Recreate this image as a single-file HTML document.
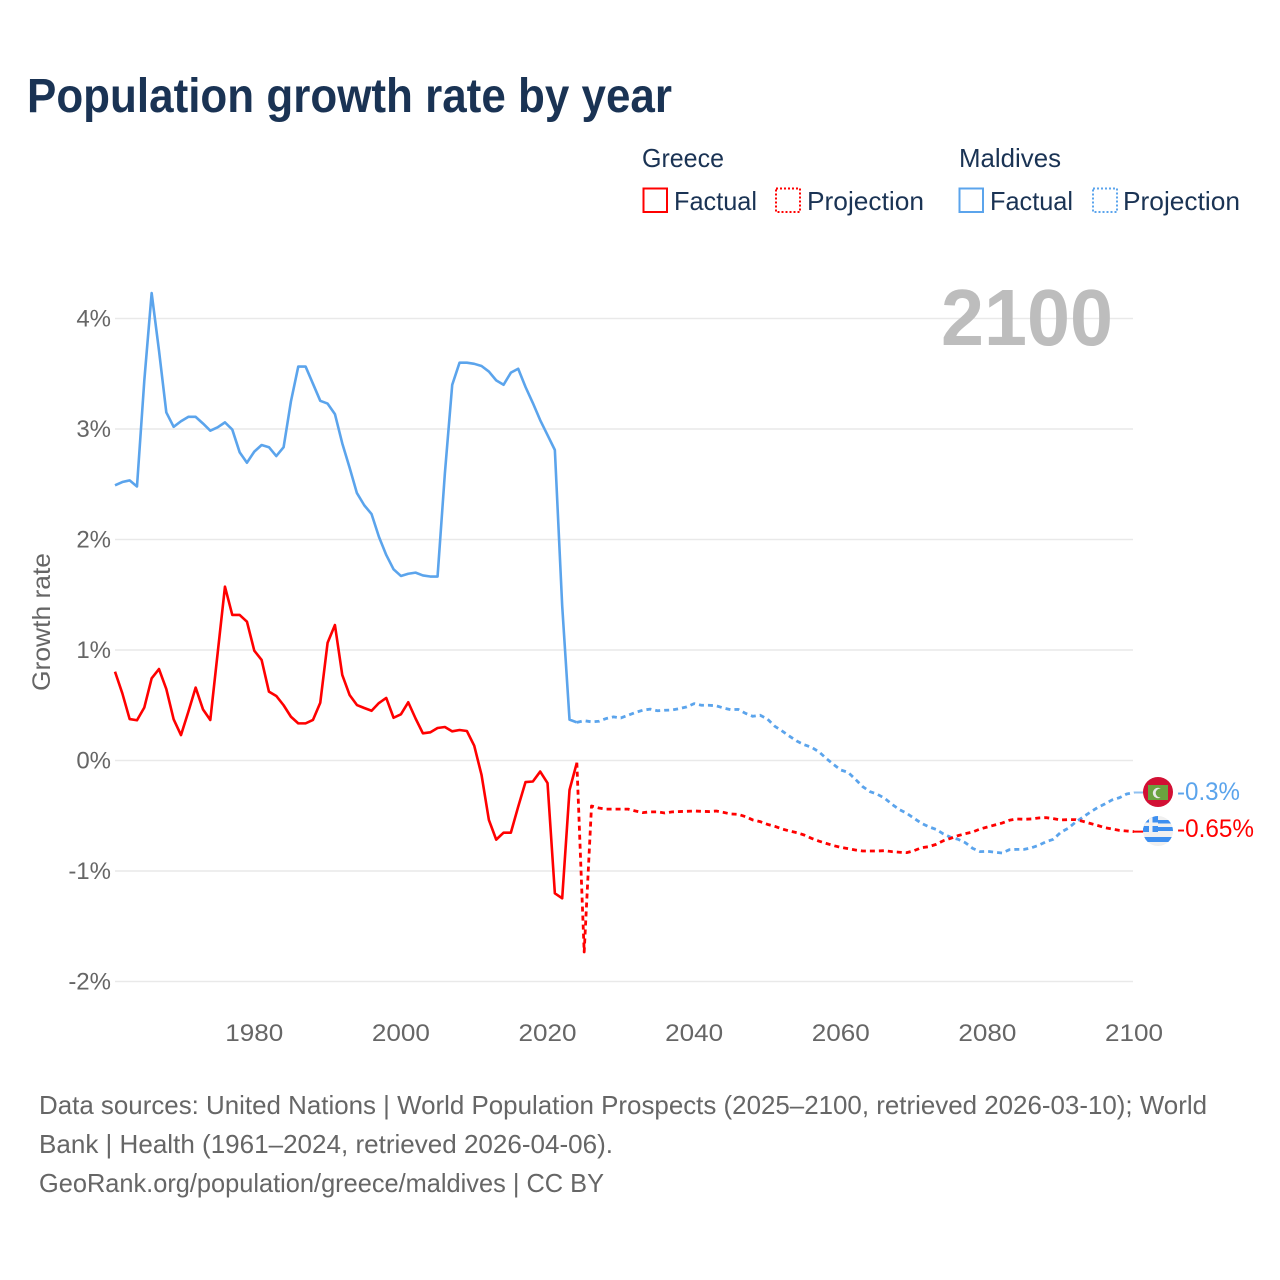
<!DOCTYPE html>
<html lang="en">
<head>
<meta charset="utf-8">
<title>Population growth rate by year</title>
<style>
html,body{margin:0;padding:0;background:#fff;}
svg{display:block;font-family:"Liberation Sans",sans-serif;}
</style>
</head>
<body>
<svg id="chart" width="1280" height="1280" viewBox="0 0 1280 1280" xmlns="http://www.w3.org/2000/svg">
  <rect width="1280" height="1280" fill="#fff"/>
  <text x="27" y="112" font-size="48" font-weight="700" fill="#1a3354" textLength="645" lengthAdjust="spacingAndGlyphs">Population growth rate by year</text>

  <g font-size="26" fill="#1a3354">
    <text x="642" y="167" textLength="82" lengthAdjust="spacingAndGlyphs">Greece</text>
    <text x="959" y="167" textLength="102" lengthAdjust="spacingAndGlyphs">Maldives</text>
    <rect x="643.5" y="188.5" width="23.5" height="23.5" fill="none" stroke="#ff0000" stroke-width="2"/>
    <text x="674" y="210" textLength="83" lengthAdjust="spacingAndGlyphs">Factual</text>
    <rect x="776" y="188.5" width="24" height="23.5" fill="none" stroke="#ff0000" stroke-width="2" stroke-dasharray="2,2"/>
    <text x="807" y="210" textLength="117" lengthAdjust="spacingAndGlyphs">Projection</text>
    <rect x="959.5" y="188.5" width="23.5" height="23.5" fill="none" stroke="#5ba4ec" stroke-width="2"/>
    <text x="990" y="210" textLength="83" lengthAdjust="spacingAndGlyphs">Factual</text>
    <rect x="1093" y="188.5" width="24" height="23.5" fill="none" stroke="#5ba4ec" stroke-width="2" stroke-dasharray="2,2"/>
    <text x="1123" y="210" textLength="117" lengthAdjust="spacingAndGlyphs">Projection</text>
  </g>

  <g id="grid"></g>
  <g id="yticks"></g>
  <g id="xticks"></g>

  <text transform="translate(50 622) rotate(-90)" text-anchor="middle" font-size="25" fill="#666" textLength="138" lengthAdjust="spacingAndGlyphs">Growth rate</text>
  <text x="941" y="345" font-size="80" font-weight="700" fill="#bdbdbd" textLength="172" lengthAdjust="spacingAndGlyphs">2100</text>

  <g id="series"></g>

  <defs>
    <clipPath id="flag-clip-mv"><circle cx="1158" cy="792" r="15"/></clipPath>
    <clipPath id="flag-clip-gr"><circle cx="1158" cy="831" r="15"/></clipPath>
  </defs>
  <g clip-path="url(#flag-clip-mv)">
    <rect x="1143" y="777" width="30" height="30" fill="#d21034"/>
    <rect x="1148" y="785" width="20" height="15" fill="#6aa33f"/>
    <circle cx="1158" cy="793" r="5.2" fill="#e8e8e8"/>
    <circle cx="1160.2" cy="793" r="4.5" fill="#6aa33f"/>
  </g>
  <g clip-path="url(#flag-clip-gr)">
    <rect x="1143" y="816" width="30" height="30" fill="#f0f0f0"/>
    <rect x="1143" y="820" width="30" height="3.5" fill="#3d8ff0"/>
    <rect x="1143" y="827" width="30" height="4" fill="#3d8ff0"/>
    <rect x="1143" y="837" width="30" height="5" fill="#3d8ff0"/>
    <rect x="1143" y="816" width="15" height="16" fill="#3d8ff0"/>
    <rect x="1149" y="816" width="3.5" height="16" fill="#f2f2f2"/>
    <rect x="1143" y="822.5" width="15" height="3.5" fill="#f2f2f2"/>
  </g>
  <text x="1177" y="800" font-size="25" fill="#5ba4ec" textLength="63" lengthAdjust="spacingAndGlyphs">-0.3%</text>
  <text x="1177" y="837" font-size="25" fill="#ff0000" textLength="77" lengthAdjust="spacingAndGlyphs">-0.65%</text>

  <g fill="#666" font-size="26">
    <text x="39" y="1114" textLength="1168" lengthAdjust="spacingAndGlyphs">Data sources: United Nations | World Population Prospects (2025–2100, retrieved 2026-03-10); World</text>
    <text x="39" y="1153" textLength="574" lengthAdjust="spacingAndGlyphs">Bank | Health (1961–2024, retrieved 2026-04-06).</text>
    <text x="39" y="1192" textLength="565" lengthAdjust="spacingAndGlyphs">GeoRank.org/population/greece/maldives | CC BY</text>
  </g>
</svg>

<script>
const yTicks = [4, 3, 2, 1, 0, -1, -2];
const yTickLabels = ["4%", "3%", "2%", "1%", "0%", "-1%", "-2%"];
const xTicks = [1980, 2000, 2020, 2040, 2060, 2080, 2100];
const xTickLabels = ["1980", "2000", "2020", "2040", "2060", "2080", "2100"];

const factualStartYear = 1961;
const projectionStartYear = 2024;

const greeceFactual = [
  0.804,0.608,0.375,0.364,0.48,0.744,0.828,0.647,0.373,0.23,
  0.44,0.66,0.463,0.367,0.97,1.573,1.317,1.317,1.256,0.994,
  0.91,0.623,0.584,0.50,0.396,0.336,0.336,0.367,0.523,1.066,
  1.226,0.774,0.593,0.502,0.475,0.45,0.52,0.566,0.387,0.418,
  0.527,0.38,0.246,0.255,0.294,0.303,0.264,0.276,0.267,0.134,
  -0.131,-0.538,-0.716,-0.653,-0.653,-0.418,-0.195,-0.19,-0.10,-0.204,
  -1.202,-1.247,-0.267,-0.02
];
const greeceProjection = [
  -0.02,-1.733,-0.412,-0.43,-0.44,-0.44,-0.44,-0.44,-0.457,-0.472,
  -0.465,-0.465,-0.475,-0.465,-0.462,-0.46,-0.457,-0.46,-0.462,-0.457,
  -0.47,-0.484,-0.487,-0.508,-0.538,-0.553,-0.578,-0.596,-0.62,-0.638,
  -0.653,-0.674,-0.704,-0.729,-0.75,-0.77,-0.786,-0.798,-0.81,-0.819,
  -0.819,-0.819,-0.816,-0.825,-0.83,-0.834,-0.816,-0.789,-0.78,-0.759,
  -0.726,-0.704,-0.68,-0.662,-0.647,-0.62,-0.602,-0.584,-0.566,-0.541,
  -0.529,-0.532,-0.529,-0.52,-0.517,-0.526,-0.538,-0.535,-0.535,-0.55,
  -0.569,-0.587,-0.608,-0.62,-0.632,-0.638,-0.644
];
const maldivesFactual = [
  2.49,2.52,2.535,2.48,3.44,4.23,3.71,3.15,3.02,3.07,
  3.11,3.11,3.05,2.985,3.015,3.06,2.995,2.79,2.695,2.795,
  2.855,2.835,2.755,2.835,3.25,3.565,3.565,3.41,3.255,3.23,
  3.135,2.87,2.65,2.42,2.31,2.23,2.025,1.86,1.73,1.67,
  1.69,1.70,1.675,1.665,1.665,2.6,3.40,3.60,3.60,3.59,
  3.57,3.52,3.44,3.40,3.51,3.545,3.38,3.235,3.08,2.945,
  2.81,1.4,0.37,0.345
];
const maldivesProjection = [
  0.345,0.36,0.35,0.355,0.38,0.395,0.385,0.41,0.435,0.455,
  0.465,0.45,0.455,0.457,0.47,0.485,0.515,0.50,0.50,0.495,
  0.475,0.46,0.463,0.427,0.40,0.41,0.375,0.31,0.267,0.22,
  0.176,0.143,0.12,0.08,0.02,-0.035,-0.086,-0.107,-0.17,-0.237,
  -0.282,-0.306,-0.342,-0.397,-0.445,-0.478,-0.523,-0.568,-0.60,-0.623,
  -0.665,-0.695,-0.713,-0.744,-0.795,-0.825,-0.822,-0.83,-0.837,-0.807,
  -0.804,-0.804,-0.79,-0.767,-0.735,-0.713,-0.65,-0.614,-0.56,-0.514,
  -0.469,-0.427,-0.394,-0.357,-0.337,-0.303,-0.29
];

const SVG_NS = "http://www.w3.org/2000/svg";
const plotLeft = 115, plotRight = 1134;
const yearMin = 1961, yearMax = 2100;
const zeroY = 760.5, pxPerPercent = 110.5;
const flagX = 1158;

function xScale(year) {
  return plotLeft + (year - yearMin) * (plotRight - plotLeft) / (yearMax - yearMin);
}
function yScale(value) {
  return zeroY - value * pxPerPercent;
}
function seriesPoints(values, startYear) {
  return values.map(function (v, i) {
    return xScale(startYear + i).toFixed(2) + "," + yScale(v).toFixed(2);
  }).join(" ");
}
function make(tag, attrs, parent) {
  const el = document.createElementNS(SVG_NS, tag);
  Object.keys(attrs).forEach(function (k) { el.setAttribute(k, attrs[k]); });
  parent.appendChild(el);
  return el;
}

const gridGroup = document.getElementById("grid");
const yTickGroup = document.getElementById("yticks");
const xTickGroup = document.getElementById("xticks");
const seriesGroup = document.getElementById("series");

yTicks.forEach(function (t, i) {
  const line = make("line", { x1: plotLeft, x2: plotRight - 1, y1: yScale(t), y2: yScale(t), stroke: "#e9e9e9", "stroke-width": 1.4 }, gridGroup);
  
  
  const label = make("text", { x: 111, y: yScale(t) + 8, "text-anchor": "end", "font-size": 24, fill: "#666" }, yTickGroup);
  label.textContent = yTickLabels[i];
  
  
});

xTicks.forEach(function (t, i) {
  const label = make("text", { x: xScale(t), y: 1041, "text-anchor": "middle", "font-size": 24, fill: "#666", textLength: 58, lengthAdjust: "spacingAndGlyphs" }, xTickGroup);
  label.textContent = xTickLabels[i];
  
  
});

function drawLine(values, startYear, color, dashed) {
  const attrs = { points: seriesPoints(values, startYear), fill: "none", stroke: color, "stroke-width": dashed ? 2.8 : 2.6, "stroke-linejoin": "round" };
  if (dashed) { attrs["stroke-dasharray"] = "5,4"; }
  return make("polyline", attrs, seriesGroup);
}
function drawConnector(values, color) {
  const last = values[values.length - 1];
  return make("line", { x1: xScale(yearMax), x2: flagX, y1: yScale(last), y2: yScale(last), stroke: color, "stroke-width": 2 }, seriesGroup);
}

const lineMaldivesProjection = drawLine(maldivesProjection, projectionStartYear, "#5ba4ec", true);



const lineMaldivesFactual = drawLine(maldivesFactual, factualStartYear, "#5ba4ec", false);



const lineGreeceProjection = drawLine(greeceProjection, projectionStartYear, "#ff0000", true);



const lineGreeceFactual = drawLine(greeceFactual, factualStartYear, "#ff0000", false);



const connectorMaldives = drawConnector(maldivesProjection, "#8fc0f0");



const connectorGreece = drawConnector(greeceProjection, "#ff0000");


</script>
</body>
</html>
